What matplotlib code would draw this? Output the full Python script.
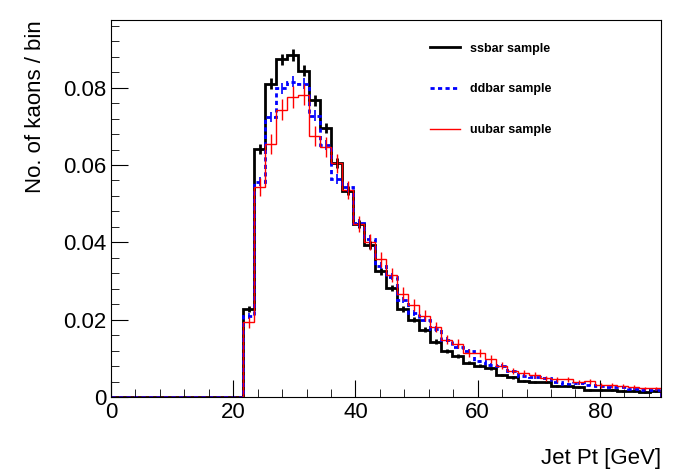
import matplotlib
matplotlib.use('Agg')
import matplotlib.pyplot as plt
import numpy as np
from matplotlib.ticker import MultipleLocator, FuncFormatter

plt.rcParams['font.family'] = ['Liberation Sans', 'DejaVu Sans']

# 50 bins of 1.8 GeV from 0 to 90
edges = np.linspace(0, 90, 51)
zeros = [0.0] * 12

ssbar = zeros + [0.0228, 0.0641, 0.0810, 0.0873, 0.0884, 0.0844, 0.0767, 0.0696, 0.0605,
                 0.0533, 0.0448, 0.0393, 0.0325, 0.0282, 0.0228, 0.0200, 0.0174, 0.0143,
                 0.0118, 0.0105, 0.0089, 0.0081, 0.0074, 0.0057, 0.0051, 0.0042, 0.0039,
                 0.0039, 0.0029, 0.0029, 0.0025, 0.0018, 0.0018, 0.0018, 0.0015, 0.0016,
                 0.0013, 0.0015]
ddbar = zeros + [0.0209, 0.0557, 0.0724, 0.0799, 0.0815, 0.0810, 0.0728, 0.0652, 0.0564,
                 0.0542, 0.0449, 0.0408, 0.0339, 0.0311, 0.0250, 0.0217, 0.0200, 0.0176,
                 0.0148, 0.0129, 0.0118, 0.0092, 0.0083, 0.0081, 0.0066, 0.0055, 0.0051,
                 0.0048, 0.0040, 0.0034, 0.0035, 0.0030, 0.0029, 0.0027, 0.0025, 0.0020,
                 0.0018, 0.0018]
uubar = zeros + [0.0193, 0.0542, 0.0654, 0.0743, 0.0776, 0.0782, 0.0674, 0.0646, 0.0605,
                 0.0536, 0.0447, 0.0401, 0.0356, 0.0316, 0.0267, 0.0238, 0.0210, 0.0181,
                 0.0148, 0.0138, 0.0113, 0.0113, 0.0098, 0.0081, 0.0068, 0.0061, 0.0056,
                 0.0048, 0.0046, 0.0046, 0.0039, 0.0041, 0.0030, 0.0030, 0.0029, 0.0025,
                 0.0022, 0.0022]

fig = plt.figure(figsize=(6.96, 4.72), dpi=100)
ax = fig.add_axes([111/696, 75/472, 550/696, 377/472])

centers = 0.5 * (edges[:-1] + edges[1:])

def draw(vals, color, lw, ls, label, err_scale):
    vals = np.array(vals)
    ax.stairs(vals, edges, color=color, lw=lw, ls=ls, label=label)
    nz = vals > 0
    ax.errorbar(centers[nz], vals[nz], yerr=np.sqrt(vals[nz]) * err_scale,
                fmt='none', ecolor=color, elinewidth=lw if ls == '-' else 1.2)

draw(ssbar, 'black', 2.0, '-', 'ssbar sample', 0.005)
draw(ddbar, 'blue', 2.0, (0, (1.5, 1.2)), 'ddbar sample', 0.005)
draw(uubar, 'red', 1.0, '-', 'uubar sample', 0.01)

ax.set_xlim(0, 90)
ax.set_ylim(0, 0.0975)
ax.xaxis.set_major_locator(MultipleLocator(20))
ax.xaxis.set_minor_locator(MultipleLocator(4))
ax.yaxis.set_major_locator(MultipleLocator(0.02))
ax.yaxis.set_minor_locator(MultipleLocator(0.004))
ax.xaxis.set_major_formatter(FuncFormatter(lambda v, p: f'{v:.0f}'))
ax.yaxis.set_major_formatter(FuncFormatter(lambda v, p: '0' if abs(v) < 1e-9 else f'{v:.2f}'))
ax.tick_params(which='both', direction='in', top=False, right=False, labelsize=16)
ax.tick_params(which='major', length=12)
ax.tick_params(which='minor', length=6)

ax.set_xlabel('Jet Pt [GeV]', fontsize=16, loc='right', labelpad=18)
ax.set_ylabel('No. of kaons / bin', fontsize=16, loc='top', labelpad=12)

ax.legend(loc='upper left', bbox_to_anchor=(0.56, 0.97), frameon=False,
          handlelength=2.4, labelspacing=2.3, prop={'size': 9, 'weight': 'bold'})

plt.savefig('out.png', dpi=100)
